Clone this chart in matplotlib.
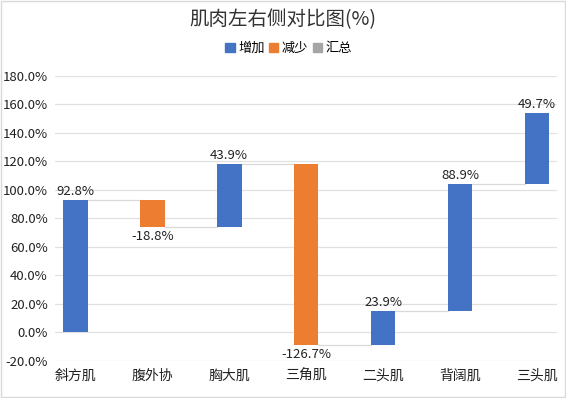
import numpy as np
import matplotlib
matplotlib.use("Agg")
import matplotlib.pyplot as plt
from matplotlib.patches import Patch
from matplotlib.ticker import FuncFormatter

plt.rcParams['font.family'] = ['Noto Sans CJK SC', 'DejaVu Sans']

# 数据：各肌肉左右侧差异（%）
categories = ["斜方肌", "腹外协", "胸大肌", "三角肌", "二头肌", "背阔肌", "三头肌"]
changes = [92.8, -18.8, 43.9, -126.7, 23.9, 88.9, 49.7]
legend_labels = ["增加", "减少", "汇总"]

BLUE = "#4472C4"
ORANGE = "#ED7D31"
GREY = "#A5A5A5"

vals = np.array(changes)
ends = np.cumsum(vals)
starts = ends - vals
x = np.arange(len(categories))
w = 0.32

fig = plt.figure(figsize=(5.66, 3.98), dpi=100)
ax = fig.add_axes([0.097, 0.0937, 0.887, 0.7163])

colors = [BLUE if v >= 0 else ORANGE for v in vals]
ax.bar(x, vals, bottom=starts, width=w, color=colors, zorder=3)

# 连接线
for i in range(len(x) - 1):
    ax.plot([x[i] + w / 2, x[i + 1] - w / 2], [ends[i], ends[i]],
            color="#D9D9D9", lw=0.9, zorder=2)

# 数据标签
for xi, s, e, v in zip(x, starts, ends, vals):
    if v >= 0:
        ax.text(xi, e + 1.2, f"{v:.1f}%", ha="center", va="bottom", fontsize=9.5, color="#222222")
    else:
        ax.text(xi, e - 2, f"{v:.1f}%", ha="center", va="top", fontsize=9.5, color="#222222")

ax.set_ylim(-20, 180)
ax.set_yticks(np.arange(-20, 181, 20))
ax.yaxis.set_major_formatter(FuncFormatter(lambda v, p: f"{v:.1f}%"))
ax.set_xlim(-0.266, len(x) - 1 + 0.26)
ax.set_xticks(x)
ax.set_xticklabels(categories)
ax.tick_params(length=0, labelsize=9.5, colors="#222222")
ax.tick_params(axis="x", pad=6, labelsize=10)
ax.tick_params(axis="y", pad=5)
ax.grid(axis="y", color="#E0E0E0", lw=0.9, zorder=0)
for sp in ax.spines.values():
    sp.set_visible(False)

fig.text(0.5, 0.95, "肌肉左右侧对比图(%)", ha="center", va="center", fontsize=14, color="#333333")
handles = [Patch(color=c) for c in (BLUE, ORANGE, GREY)]
fig.legend(handles, legend_labels, loc="center", bbox_to_anchor=(0.51, 0.878), ncol=3,
           frameon=False, fontsize=9.5, handlelength=0.7, handleheight=0.7,
           handletextpad=0.25, columnspacing=0.35)

fig.patches.append(plt.Rectangle((0.002, 0.002), 0.996, 0.996, transform=fig.transFigure,
                                 fill=False, edgecolor="#D9D9D9", lw=1))

fig.savefig("out.png", dpi=100)
